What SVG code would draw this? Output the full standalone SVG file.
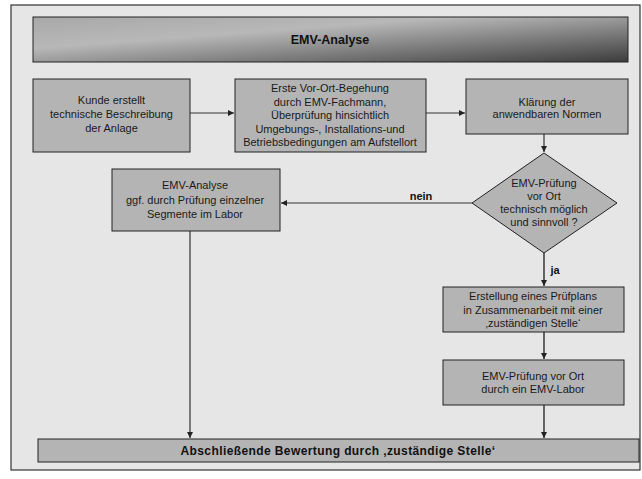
<svg xmlns="http://www.w3.org/2000/svg" width="642" height="479" viewBox="0 0 642 479">
<defs>
<linearGradient id="tg" x1="0" y1="0" x2="1" y2="1">
<stop offset="0" stop-color="#a8a8a8"/>
<stop offset="0.35" stop-color="#b8b8b8"/>
<stop offset="1" stop-color="#3c3c3c"/>
</linearGradient>
<marker id="ah" markerUnits="userSpaceOnUse" markerWidth="7" markerHeight="6" refX="6" refY="3" orient="auto">
<path d="M0,0 L6,3 L0,6 Z" fill="#222"/>
</marker>
</defs>
<style>
.box{fill:#b4b4b4;stroke:#222;stroke-width:1}
.t{font-family:"Liberation Sans",Arial,sans-serif;font-size:11px;fill:#1a1a1a;text-anchor:middle}
.b{font-family:"Liberation Sans",Arial,sans-serif;font-weight:bold;fill:#111;text-anchor:middle}
.c{fill:none;stroke:#333;stroke-width:1.2;marker-end:url(#ah)}
.c2{fill:none;stroke:#555;stroke-width:1.8;marker-end:url(#ah)}
</style>
<rect x="0" y="0" width="642" height="479" fill="#ffffff"/>
<rect x="11" y="5" width="629" height="465" fill="#e6e6e6" stroke="#333" stroke-width="1.2"/>

<g id="title">
<rect x="33" y="17" width="595" height="45" fill="url(#tg)" stroke="#222" stroke-width="1"/>
<text class="b" x="330" y="44" font-size="12.5">EMV-Analyse</text>
</g>

<g id="connectors">
<path class="c" d="M190,113 H234"/>
<path class="c" d="M426,113 H465"/>
<path class="c" d="M544,134 V152"/>
<path class="c" d="M472,203 H281"/>
<path class="c2" d="M544,253 V286"/>
<path class="c2" d="M544,332 V359"/>
<path class="c2" d="M544,405 V438"/>
<path class="c" d="M190,231 V438"/>
<text class="b" x="421" y="200" font-size="11">nein</text>
<text class="b" x="555" y="274" font-size="11">ja</text>
</g>

<g id="kunde">
<rect class="box" x="33" y="79" width="157" height="73"/>
<text class="t" x="111.5" y="104">Kunde erstellt</text>
<text class="t" x="111.5" y="118">technische Beschreibung</text>
<text class="t" x="111.5" y="132">der Anlage</text>
</g>

<g id="begehung">
<rect class="box" x="235" y="79" width="191" height="73"/>
<text class="t" x="330" y="92">Erste Vor-Ort-Begehung</text>
<text class="t" x="330" y="105.5">durch EMV-Fachmann,</text>
<text class="t" x="330" y="119">Überprüfung hinsichtlich</text>
<text class="t" x="330" y="132.5">Umgebungs-, Installations-und</text>
<text class="t" x="330" y="146">Betriebsbedingungen am Aufstellort</text>
</g>

<g id="normen">
<rect class="box" x="466" y="79" width="162" height="55"/>
<text class="t" x="547" y="106">Klärung der</text>
<text class="t" x="547" y="118">anwendbaren Normen</text>
</g>

<g id="entscheidung">
<path d="M544,153 L617,203 L544,253 L472,203 Z" fill="#b4b4b4" stroke="#222" stroke-width="1"/>
<text class="t" x="544" y="187">EMV-Prüfung</text>
<text class="t" x="544" y="200">vor Ort</text>
<text class="t" x="544" y="213">technisch möglich</text>
<text class="t" x="544" y="226">und sinnvoll ?</text>
</g>

<g id="labor">
<rect class="box" x="112" y="169" width="168" height="62"/>
<text class="t" x="195" y="189">EMV-Analyse</text>
<text class="t" x="195" y="204">ggf. durch Prüfung einzelner</text>
<text class="t" x="195" y="218">Segmente im Labor</text>
</g>

<g id="pruefplan">
<rect class="box" x="443" y="287" width="181" height="45"/>
<text class="t" x="533" y="300">Erstellung eines Prüfplans</text>
<text class="t" x="533" y="314">in Zusammenarbeit mit einer</text>
<text class="t" x="533" y="327">‚zuständigen Stelle‘</text>
</g>

<g id="vorort">
<rect class="box" x="443" y="360" width="181" height="45"/>
<text class="t" x="533" y="380">EMV-Prüfung vor Ort</text>
<text class="t" x="533" y="393">durch ein EMV-Labor</text>
</g>

<g id="bewertung">
<rect class="box" x="38" y="439" width="601" height="23"/>
<text class="b" x="338" y="455" font-size="12" letter-spacing="0.4">Abschließende Bewertung durch ‚zuständige Stelle‘</text>
</g>
</svg>
